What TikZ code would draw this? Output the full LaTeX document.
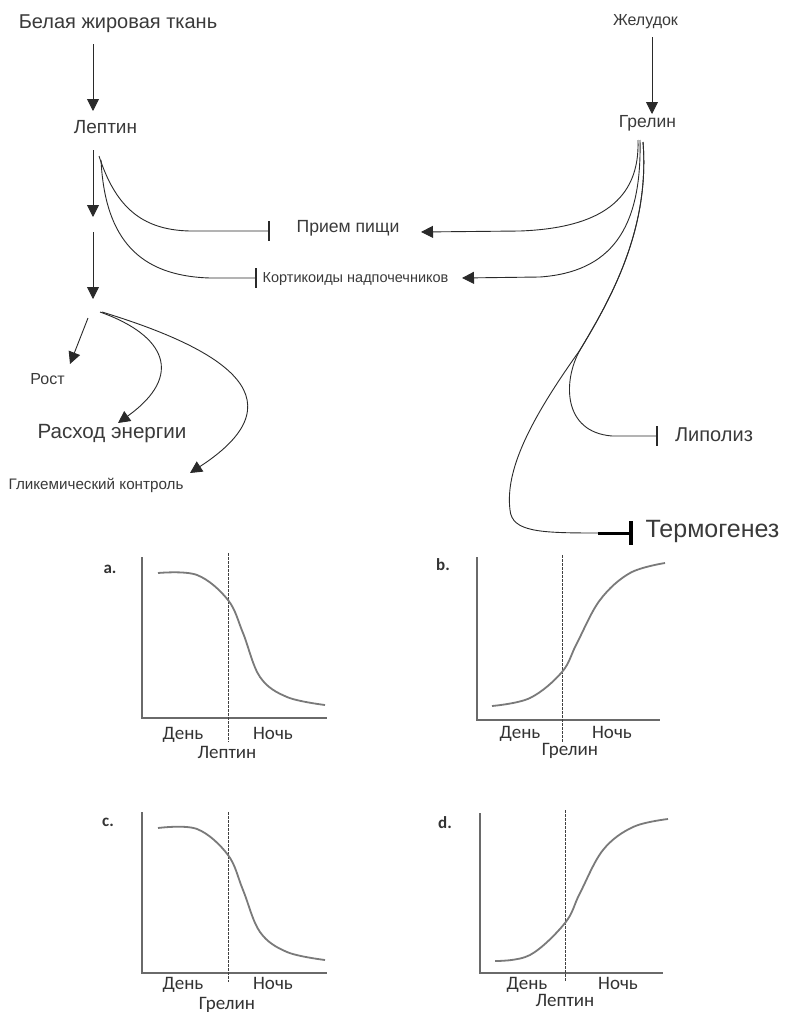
\documentclass[tikz,border=0pt]{standalone}
\usepackage{fontspec}
\setmainfont{Liberation Sans}
\newfontfamily\chartfont{Carlito}
\usetikzlibrary{arrows.meta}
\definecolor{txt}{HTML}{3A3A3A}
\definecolor{lnc}{HTML}{2A2A2A}
\definecolor{crv}{HTML}{7A7A7A}
\definecolor{axc}{HTML}{6A6A6A}
\definecolor{ctx}{HTML}{333333}
\begin{document}
\begin{tikzpicture}[x=1pt,y=-1pt,
  lbl/.style={inner sep=0pt, text=txt},
  ln/.style={draw=lnc, line width=0.9pt},
  arr/.style={ln, -{Triangle[length=12pt,width=12pt]}},
  inh/.style={ln, -{Bar[width=20pt,line width=2pt]}},
  inhthick/.style={draw=black, line width=3pt, -{Bar[width=24pt,line width=4pt]}},
  axisln/.style={draw=axc, line width=1.4pt},
  crvs/.style={draw=crv, line width=1.8pt},
  dsh/.style={draw=black!75, line width=0.8pt, dash pattern=on 2.5pt off 1.5pt},
  ct/.style={inner sep=0pt, anchor=base, text=ctx, font=\chartfont\fontsize{19}{21}\selectfont},
  cl/.style={inner sep=0pt, text=ctx, font=\chartfont\bfseries\fontsize{17}{20}\selectfont},
]
\useasboundingbox (0,0) rectangle (785,1012);
\fill[white] (0,0) rectangle (785,1012);

% ---------- text nodes ----------
\node[lbl,font=\fontsize{20}{23}\selectfont] (bzt) at (118,24) {Белая жировая ткань};
\node[lbl,font=\fontsize{19}{22}\selectfont] (lep) at (105.5,127) {Лептин};
\node[lbl,font=\fontsize{16}{19}\selectfont] (zhe) at (645.5,22) {Желудок};
\node[lbl,font=\fontsize{17.5}{20}\selectfont] (gre) at (647.5,123) {Грелин};
\node[lbl,font=\fontsize{17.6}{20}\selectfont] (pri) at (348,228) {Прием пищи};
\node[lbl,font=\fontsize{14.5}{17}\selectfont] (kor) at (355.5,279) {Кортикоиды надпочечников};
\node[lbl,font=\fontsize{16}{19}\selectfont] (rost) at (47.5,379) {Рост};
\node[lbl,font=\fontsize{20.6}{24}\selectfont] (rash) at (112,434) {Расход энергии};
\node[lbl,font=\fontsize{15.2}{18}\selectfont] (gli) at (96,485) {Гликемический контроль};
\node[lbl,font=\fontsize{20}{23}\selectfont] (lip) at (714,435) {Липолиз};
\node[lbl,font=\fontsize{25}{29}\selectfont] (ter) at (712.5,531) {Термогенез};

% ---------- connector points ----------
\coordinate (lx0) at (93,44);
\coordinate (lx1) at (93,111);
\coordinate (lx2) at (93,150);
\coordinate (lx3) at (93,217);
\coordinate (lx4) at (93,232);
\coordinate (lx5) at (93,299);
\coordinate (lo1) at (99,156);
\coordinate (lo2) at (101,160);
\coordinate (hub1) at (88,318);
\coordinate (hub2) at (100,312);
\coordinate (hub3) at (102,312);
\coordinate (rostT) at (70,364);
\coordinate (rashT) at (118,423);
\coordinate (gliT) at (190,473);
\coordinate (priBar) at (270,231);
\coordinate (korBar) at (257,278);
\coordinate (priTip) at (421,232);
\coordinate (korTip) at (462,278);
\coordinate (gx0) at (652,37);
\coordinate (gx1) at (652,114);
\coordinate (go1) at (638,140);
\coordinate (go2) at (640,140);
\coordinate (go3) at (643,142);
\coordinate (split) at (580,350);
\coordinate (lipBar) at (658,436);
\coordinate (terA) at (598,533);
\coordinate (terBar) at (633,533);

% ---------- left (leptin) connectors ----------
\draw[arr] (lx0) -- (lx1);
\draw[arr] (lx2) -- (lx3);
\draw[arr] (lx4) -- (lx5);
\draw[inh] (lo1) .. controls (115,205) and (140,230) .. (190,231) -- (priBar);
\draw[inh] (lo2) .. controls (105,240) and (140,276) .. (210,278) -- (korBar);
\draw[arr] (hub1) -- (rostT);
\draw[arr] (hub2) .. controls (165,335) and (185,375) .. (rashT);
\draw[arr] (hub3) .. controls (210,345) and (310,395) .. (gliT);

% ---------- right (ghrelin) connectors ----------
\draw[arr] (gx0) -- (gx1);
\draw[arr] (go1) .. controls (640,200) and (600,228) .. (520,231) -- (priTip);
\draw[arr] (go2) .. controls (642,230) and (610,272) .. (540,277) -- (korTip);
\draw[inh] (go3) .. controls (650,230) and (610,300) .. (split)
  .. controls (563,380) and (562,432) .. (612,436) -- (lipBar);
\draw[ln] (go3) .. controls (650,230) and (610,300) .. (split)
  .. controls (530,420) and (505,470) .. (510,510)
  .. controls (512,532) and (540,533) .. (terA);
\draw[inhthick] (terA) -- (terBar);

% ---------- chart a ----------
\node[cl] (la) at (110,569) {a.};
\draw[axisln] (142,557) -- (142,718) -- (327,718);
\draw[dsh] (228,553) -- (228,742);
\draw[crvs] plot[smooth,tension=0.6] coordinates {(158,573) (197,575) (228,600) (243,633) (260,677) (287,697) (325,705)};
\node[ct] (da) at (183,739) {День};
\node[ct] (na) at (273,739) {Ночь};
\node[ct] (ta) at (227,758) {Лептин};

% ---------- chart b ----------
\node[cl] (lb) at (443,565) {b.};
\draw[axisln] (477,557) -- (477,720) -- (660,720);
\draw[dsh] (562,555) -- (562,742);
\draw[crvs] plot[smooth,tension=0.6] coordinates {(492,706) (530,698) (562,672) (577,643) (600,600) (630,573) (665,563)};
\node[ct] (db) at (520,738) {День};
\node[ct] (nb) at (612,738) {Ночь};
\node[ct] (tb) at (570,755) {Грелин};

% ---------- chart c ----------
\node[cl] (lc) at (108,822) {c.};
\draw[axisln] (142,812) -- (142,973) -- (327,973);
\draw[dsh] (228,812) -- (228,982);
\draw[crvs] plot[smooth,tension=0.6] coordinates {(158,828) (197,829) (228,855) (243,890) (260,932) (287,952) (325,960)};
\node[ct] (dc) at (183,989) {День};
\node[ct] (nc) at (273,989) {Ночь};
\node[ct] (tc) at (227,1009) {Грелин};

% ---------- chart d ----------
\node[cl] (ld) at (445,823) {d.};
\draw[axisln] (480,813) -- (480,973) -- (663,973);
\draw[dsh] (565,810) -- (565,982);
\draw[crvs] plot[smooth,tension=0.6] coordinates {(495,961) (530,955) (565,923) (580,893) (603,850) (633,827) (668,819)};
\node[ct] (dd) at (527,989) {День};
\node[ct] (nd) at (618,989) {Ночь};
\node[ct] (td) at (565,1006) {Лептин};
\end{tikzpicture}
\end{document}
